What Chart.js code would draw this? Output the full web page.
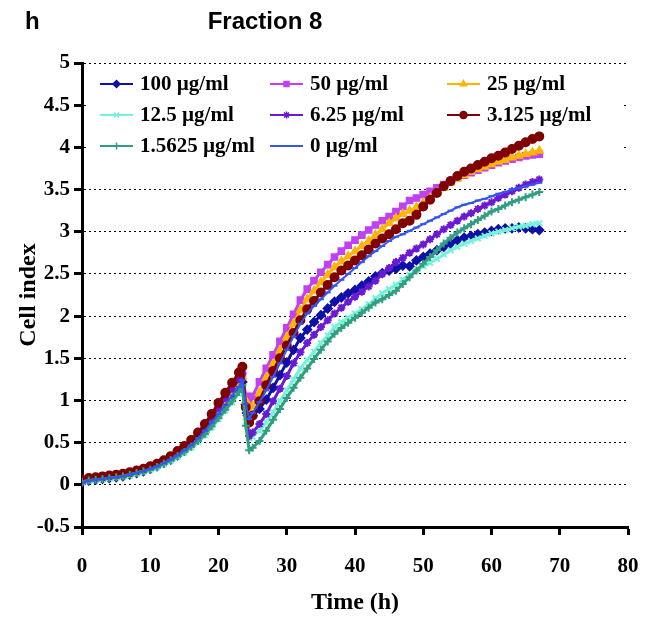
<!DOCTYPE html>
<html>
<head>
<meta charset="utf-8">
<script src="https://cdn.jsdelivr.net/npm/chart.js@4.4.1/dist/chart.umd.min.js"></script>
<style>
  html, body { margin: 0; padding: 0; background: #fff; }
  #wrap { width: 646px; height: 623px; }
</style>
</head>
<body>
<div id="wrap"><canvas id="cellChart"></canvas></div>
<script>
// time points (h)
const hours = [0, 1, 2, 3, 4, 5, 6, 7, 8, 9, 10, 11, 12, 13, 14, 15, 16, 17, 18, 19, 20, 21, 22, 23,
  23.5, 24, 24.5,
  25, 26, 27, 28, 29, 30, 31, 32, 33, 34, 35, 36, 37, 38, 39, 40, 41, 42, 43, 44, 45, 46,
  47, 48, 49, 50, 51, 52, 53, 54, 55, 56, 57, 58, 59, 60, 61, 62, 63, 64, 65, 66, 67];

// cell index per concentration
const c100 = [0.03, 0.05, 0.06, 0.07, 0.08, 0.09, 0.1, 0.12, 0.14, 0.16, 0.19, 0.22, 0.26, 0.3, 0.35, 0.41, 0.47, 0.55, 0.63, 0.73, 0.83, 0.94, 1.05, 1.15,
  1.22, 0.95, 0.8,
  0.82, 0.9, 1.01, 1.15, 1.3, 1.45, 1.6, 1.74, 1.84, 1.93, 2.01, 2.09, 2.17, 2.22, 2.27, 2.31, 2.36, 2.41, 2.47, 2.51, 2.54, 2.56,
  2.6, 2.59, 2.66, 2.7, 2.74, 2.78, 2.82, 2.86, 2.9, 2.93, 2.95, 2.97, 2.99, 3.01, 3.03, 3.04, 3.04, 3.05, 3.04, 3.03, 3.02];
const c50 = [0.05, 0.07, 0.08, 0.09, 0.1, 0.11, 0.12, 0.14, 0.16, 0.18, 0.21, 0.24, 0.28, 0.32, 0.38, 0.44, 0.51, 0.59, 0.68, 0.78, 0.9, 1.01, 1.12, 1.22,
  1.3, 1.05, 0.96,
  1.05, 1.22, 1.38, 1.54, 1.7, 1.86, 2.02, 2.19, 2.32, 2.42, 2.52, 2.61, 2.7, 2.77, 2.84, 2.9, 2.96, 3.02, 3.08, 3.13, 3.18, 3.24,
  3.3, 3.37, 3.4, 3.44, 3.48, 3.52, 3.56, 3.6, 3.64, 3.67, 3.7, 3.73, 3.76, 3.79, 3.82, 3.84, 3.86, 3.88, 3.9, 3.91, 3.92];
const c25 = [0.05, 0.07, 0.08, 0.09, 0.1, 0.11, 0.12, 0.14, 0.16, 0.18, 0.21, 0.24, 0.28, 0.32, 0.37, 0.43, 0.5, 0.58, 0.67, 0.77, 0.88, 0.99, 1.1, 1.2,
  1.28, 1.0, 0.86,
  0.93, 1.09, 1.27, 1.43, 1.59, 1.75, 1.91, 2.07, 2.2, 2.3, 2.4, 2.49, 2.58, 2.65, 2.71, 2.77, 2.83, 2.89, 2.96, 3.03, 3.1, 3.16,
  3.21, 3.25, 3.29, 3.34, 3.4, 3.46, 3.52, 3.58, 3.63, 3.67, 3.71, 3.74, 3.77, 3.8, 3.83, 3.85, 3.88, 3.9, 3.92, 3.94, 3.96];
const c12_5 = [0.03, 0.05, 0.06, 0.07, 0.08, 0.09, 0.1, 0.11, 0.13, 0.15, 0.18, 0.21, 0.24, 0.28, 0.33, 0.38, 0.44, 0.51, 0.59, 0.68, 0.78, 0.88, 0.98, 1.08,
  1.15, 0.75, 0.55,
  0.57, 0.64, 0.74, 0.86, 0.99, 1.12, 1.25, 1.38, 1.48, 1.58, 1.68, 1.77, 1.87, 1.93, 1.98, 2.03, 2.08, 2.14, 2.21, 2.27, 2.32, 2.37,
  2.43, 2.49, 2.54, 2.59, 2.63, 2.68, 2.73, 2.78, 2.82, 2.86, 2.89, 2.92, 2.95, 2.98, 3.0, 3.02, 3.04, 3.06, 3.07, 3.09, 3.1];
const c6_25 = [0.06, 0.08, 0.09, 0.1, 0.11, 0.12, 0.13, 0.15, 0.17, 0.19, 0.22, 0.25, 0.29, 0.33, 0.39, 0.45, 0.52, 0.6, 0.69, 0.8, 0.91, 1.03, 1.14, 1.25,
  1.32, 0.85, 0.58,
  0.62, 0.72, 0.84, 0.99, 1.14, 1.29, 1.44, 1.57, 1.68, 1.78, 1.87, 1.95, 2.03, 2.1, 2.17, 2.23, 2.29, 2.35, 2.42, 2.5, 2.57, 2.64,
  2.69, 2.75, 2.8, 2.85, 2.91, 2.97, 3.03, 3.08, 3.13, 3.18, 3.22, 3.27, 3.31, 3.35, 3.4, 3.44, 3.48, 3.52, 3.56, 3.59, 3.62];
const c3_125 = [0.06, 0.08, 0.09, 0.1, 0.11, 0.12, 0.13, 0.15, 0.17, 0.19, 0.22, 0.25, 0.29, 0.34, 0.4, 0.46, 0.53, 0.62, 0.72, 0.84, 0.97, 1.09, 1.21, 1.33,
  1.4, 0.92, 0.74,
  0.82, 0.99, 1.18, 1.35, 1.5, 1.65, 1.8, 1.95, 2.08, 2.18, 2.28, 2.37, 2.46, 2.54, 2.6, 2.66, 2.72, 2.79, 2.86, 2.92, 2.97, 3.03,
  3.1, 3.13, 3.2, 3.3, 3.38, 3.46, 3.54, 3.6, 3.66, 3.71, 3.75, 3.79, 3.83, 3.87, 3.9, 3.94, 3.98, 4.02, 4.06, 4.1, 4.13];
const c1_5625 = [0.03, 0.05, 0.06, 0.07, 0.08, 0.09, 0.1, 0.12, 0.14, 0.16, 0.18, 0.21, 0.25, 0.29, 0.34, 0.39, 0.45, 0.52, 0.6, 0.69, 0.79, 0.89, 0.99, 1.1,
  1.18, 0.7, 0.41,
  0.44, 0.52, 0.64, 0.77, 0.9, 1.03, 1.15, 1.27, 1.38, 1.49, 1.6, 1.7, 1.79, 1.86, 1.92, 1.98, 2.04, 2.1, 2.16, 2.2, 2.25, 2.3,
  2.38, 2.46, 2.54, 2.62, 2.7, 2.78, 2.86, 2.93, 2.99, 3.04, 3.09, 3.14, 3.19, 3.24, 3.27, 3.31, 3.35, 3.38, 3.41, 3.44, 3.47];
const c0 = [0.02, 0.05, 0.06, 0.07, 0.08, 0.09, 0.1, 0.12, 0.14, 0.16, 0.19, 0.22, 0.26, 0.3, 0.35, 0.41, 0.47, 0.55, 0.64, 0.74, 0.84, 0.95, 1.06, 1.16,
  1.24, 0.96, 0.78,
  0.85, 0.98, 1.12, 1.28, 1.44, 1.6, 1.76, 1.91, 2.03, 2.12, 2.2, 2.28, 2.36, 2.43, 2.5, 2.57, 2.64, 2.71, 2.77, 2.83, 2.89, 2.94,
  2.97, 3.01, 3.05, 3.09, 3.13, 3.17, 3.21, 3.25, 3.29, 3.32, 3.34, 3.37, 3.39, 3.42, 3.45, 3.47, 3.5, 3.52, 3.54, 3.56, 3.58];

const seriesLabels = ['100 µg/ml', '50 µg/ml', '25 µg/ml', '12.5 µg/ml', '6.25 µg/ml', '3.125 µg/ml', '1.5625 µg/ml', '0 µg/ml'];
const seriesValues = [c100, c50, c25, c12_5, c6_25, c3_125, c1_5625, c0];
const seriesColors = ['#1010a8', '#c040f2', '#ffb400', '#74f2da', '#6a1ad2', '#800000', '#2f9f80', '#3355f0'];
const seriesMarkers = ['rectRot', 'rect', 'triangle', 'crossRot', 'star', 'circle', 'cross', 'line'];

const serif = '"Liberation Serif", "Times New Roman", serif';
const sans = '"Liberation Sans", Arial, sans-serif';

const datasets = seriesLabels.map((label, i) => ({
  label: label,
  data: hours.map((h, j) => ({ x: h, y: seriesValues[i][j] })),
  borderColor: seriesColors[i],
  backgroundColor: seriesColors[i],
  pointBackgroundColor: seriesColors[i],
  pointBorderColor: seriesColors[i],
  pointStyle: seriesMarkers[i],
  pointRadius: seriesMarkers[i] === 'line' ? 3 : 4,
  pointBorderWidth: 2,
  borderWidth: i === 7 ? 2 : 3,
  tension: 0,
  order: seriesLabels.length - i
}));

// white box behind the legend, then the legend drawn on top
const legendBox = {
  id: 'legendBox',
  beforeDatasetsDraw(chart) {
    const ctx = chart.ctx;
    ctx.save();
    ctx.fillStyle = '#fff';
    ctx.fillRect(88, 69, 534, 92);
    ctx.restore();
  },
  afterDatasetsDraw(chart) {
    const ctx = chart.ctx;
    const colX = [100, 270, 447];
    const rowY = [84, 115, 146];
    ctx.save();
    ctx.font = 'bold 21px ' + serif;
    ctx.textBaseline = 'middle';
    ctx.textAlign = 'left';
    chart.data.datasets.forEach((ds, i) => {
      const x = colX[i % 3];
      const y = rowY[Math.floor(i / 3)];
      ctx.strokeStyle = ds.borderColor;
      ctx.lineWidth = 2;
      ctx.beginPath();
      ctx.moveTo(x, y);
      ctx.lineTo(x + 33, y);
      ctx.stroke();
      ctx.fillStyle = ds.borderColor;
      ctx.lineWidth = 1.5;
      Chart.helpers.drawPoint(ctx, {
        pointStyle: ds.pointStyle,
        radius: ds.pointStyle === 'line' ? 3 : 3.5,
        borderWidth: 1.5,
        rotation: 0
      }, x + 16.5, y);
      ctx.fillStyle = '#000';
      ctx.fillText(ds.label, x + 40, y + 1);
    });
    ctx.restore();
  },
  afterDraw(chart) {
    const ctx = chart.ctx;
    ctx.save();
    ctx.fillStyle = '#000';
    ctx.font = 'bold 24px ' + sans;
    ctx.textBaseline = 'middle';
    ctx.textAlign = 'left';
    ctx.fillText('h', 25, 22);
    ctx.textAlign = 'center';
    ctx.fillText('Fraction 8', 265, 22);
    ctx.restore();
  }
};

new Chart(document.getElementById('cellChart'), {
  type: 'line',
  data: { datasets: datasets },
  plugins: [legendBox],
  options: {
    responsive: true,
    maintainAspectRatio: false,
    animation: false,
    devicePixelRatio: 1,
    layout: { padding: { top: 63, right: 18, left: 0, bottom: 0 } },
    plugins: {
      legend: { display: false },
      tooltip: { enabled: false }
    },
    scales: {
      x: {
        type: 'linear',
        min: 0,
        max: 80,
        afterFit(scale) { scale.height = 96; scale.paddingRight = 0; scale.paddingLeft = 0; },
        ticks: { stepSize: 10, color: '#000', padding: 19, font: { family: serif, size: 21, weight: 'bold' } },
        grid: { drawOnChartArea: false, drawTicks: true, tickLength: 8, tickWidth: 3, tickColor: '#000' },
        border: { color: '#000', width: 3 },
        title: { display: true, text: 'Time (h)', color: '#000', padding: { top: 4, bottom: 6 },
          font: { family: serif, size: 24, weight: 'bold' } }
      },
      y: {
        min: -0.5,
        max: 5,
        afterFit(scale) { scale.width = 82; },
        ticks: { stepSize: 0.5, color: '#000', padding: 4, font: { family: serif, size: 21, weight: 'bold' },
          callback: (v) => String(Math.round(v * 10) / 10) },
        grid: { color: '#000', lineWidth: 1, tickLength: 8, tickWidth: 3, tickColor: '#000' },
        border: { color: '#000', width: 3, dash: [2, 3] },
        title: { display: true, text: 'Cell index', color: '#000', padding: { top: 14, bottom: 0 },
          font: { family: serif, size: 24, weight: 'bold' } }
      }
    }
  }
});
</script>
</body>
</html>
